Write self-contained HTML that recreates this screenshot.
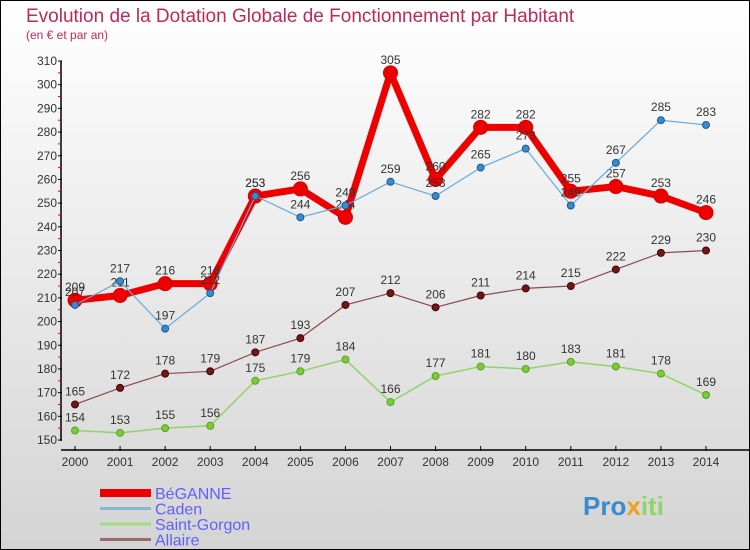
<!DOCTYPE html>
<html><head><meta charset="utf-8"><style>
body{margin:0;width:750px;height:550px;overflow:hidden;font-family:"Liberation Sans",sans-serif}
#wrap{position:absolute;left:0;top:0;width:748px;height:548px;border:1px solid #000;background:linear-gradient(#ffffff,#d4d4d4)}
</style></head><body>
<div id="wrap">
<svg id="chart" width="750" height="550" style="position:absolute;left:-1px;top:-1px"></svg>
</div>
<script>
const years=[2000,2001,2002,2003,2004,2005,2006,2007,2008,2009,2010,2011,2012,2013,2014];
const yTicks=[150,160,170,180,190,200,210,220,230,240,250,260,270,280,290,300,310];
const beganne=[209,211,216,216,253,256,244,305,260,282,282,255,257,253,246];
const caden=[207,217,197,212,253,244,249,259,253,265,273,249,267,285,283];
const saintGorgon=[154,153,155,156,175,179,184,166,177,181,180,183,181,178,169];
const allaire=[165,172,178,179,187,193,207,212,206,211,214,215,222,229,230];
const NS="http://www.w3.org/2000/svg";
const svg=document.getElementById('chart');
function X(i){return 75+i*(706-75)/14;}
function Y(v){return 440-(v-150)*(440-61)/160;}
function mk(t,a,p){const e=document.createElementNS(NS,t);for(const k in a)e.setAttribute(k,a[k]);(p||svg).appendChild(e);return e;}
function txt(x,y,s,a,p){const e=mk('text',Object.assign({x:x,y:y},a),p);e.textContent=s;return e;}
// title
let t=txt(26,22,'Evolution de la Dotation Globale de Fonctionnement par Habitant',{'font-size':19,fill:'#c0285a'});

t=txt(26,39,'(en € et par an)',{'font-size':12,fill:'#c0285a'});

// axes
const ax=mk('g',{});
mk('line',{x1:61,y1:61,x2:61,y2:441,stroke:'#000','stroke-width':1.5},ax);
yTicks.forEach(v=>{mk('line',{x1:58,y1:Y(v),x2:62,y2:Y(v),stroke:'#000'},ax);
 if(v<310)mk('line',{x1:58,y1:Y(v+5),x2:61,y2:Y(v+5),stroke:'#e00'},ax);
 const l=txt(57,Y(v)+4,v,{'font-size':12,fill:'#333','text-anchor':'end'},ax);
 });
const xa=mk('g',{});
mk('line',{x1:61,y1:450,x2:750,y2:450,stroke:'#000','stroke-width':1.5},xa);
years.forEach((yr,i)=>{mk('line',{x1:X(i),y1:446,x2:X(i),y2:451,stroke:'#000'},xa);
 const l=txt(X(i),466,yr,{'font-size':12,fill:'#333','text-anchor':'middle'},xa);
 });
function series(name,data,color,w,r,dot,stroke){
 const g=mk('g',{});
 mk('polyline',{points:data.map((v,i)=>X(i)+','+Y(v)).join(' '),fill:'none',stroke:color,'stroke-width':w,'stroke-linejoin':'round'},g);
 data.forEach((v,i)=>{const c=mk('circle',{cx:X(i),cy:Y(v),r:r,fill:dot,stroke:stroke,'stroke-width':1},g);
  
  const l=txt(X(i),Y(v)-9,v,{'font-size':12,fill:'#333','text-anchor':'middle'},g);
  });
}
series('allaire',allaire,'#8b4a4a',1.2,3.5,'#6b1a1a','#4a0000');
series('saint-gorgon',saintGorgon,'#8fd46a',1.5,3.5,'#7acc3a','#5aa020');
series('beganne',beganne,'#ee0000',7,7,'#ee0000','#c00');
series('caden',caden,'#6aaad8',1.2,3.5,'#3a8ad0','#1a5a90');
// legend
const leg=[['BéGANNE','#ee0000',8,'legend-beganne'],['Caden','#8ab6d6',3,'legend-caden'],['Saint-Gorgon','#a0dc80',3,'legend-saint-gorgon'],['Allaire','#9a6a6a',3,'legend-allaire']];
leg.forEach((d,i)=>{const g=mk('g',{});
 const y=493+i*15.5;mk('line',{x1:100,y1:y,x2:151,y2:y,stroke:d[1],'stroke-width':d[2]},g);
 txt(155,y+6,d[0],{'font-size':16,fill:'#6060ff'},g);});
// logo
const lg=txt(583,515,'',{'font-size':26,'font-weight':'bold'});

[['Pro','#3a8ad0'],['x','#f0a020'],['iti','#8fd46a']].forEach(p=>{const s=mk('tspan',{fill:p[1]},lg);s.textContent=p[0];});
</script>
</body></html>
